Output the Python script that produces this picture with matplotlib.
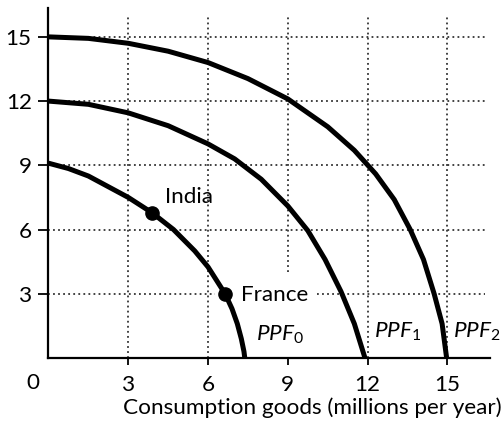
import matplotlib
matplotlib.use('Agg')
import matplotlib.pyplot as plt

# puntos (bienes de consumo, bienes de capital)
ppf0_x = [0, 0.75, 1.5, 3, 3.9, 4.7, 5.5, 6, 6.64, 6.9, 7.1, 7.25, 7.35, 7.38]
ppf0_y = [9.1, 8.85, 8.5, 7.5, 6.78, 6.0, 5.0, 4.25, 3.0, 2.3, 1.6, 0.9, 0.3, 0]

ppf1_x = [0, 1.5, 3, 4.5, 6, 7, 8, 9, 9.75, 10.4, 11.0, 11.5, 11.9]
ppf1_y = [12, 11.85, 11.45, 10.85, 10.0, 9.3, 8.35, 7.1, 5.95, 4.6, 3.1, 1.6, 0]

ppf2_x = [0, 1.5, 3, 4.5, 6, 7.5, 9, 10.5, 11.5, 12.3, 13.0, 13.6, 14.1, 14.5, 14.8, 14.97]
ppf2_y = [15, 14.93, 14.7, 14.33, 13.8, 13.05, 12.1, 10.8, 9.7, 8.6, 7.4, 6.0, 4.6, 3.0, 1.6, 0]

paises = ['India', 'France']
paises_x = [3.9, 6.64]
paises_y = [6.78, 3.0]

ticks = [3, 6, 9, 12, 15]
etiquetas_ppf = ['$PPF_0$', '$PPF_1$', '$PPF_2$']
xlabel = 'Consumption goods (millions per year)'

plt.rcParams['font.family'] = ['Lato', 'DejaVu Sans']
plt.rcParams['mathtext.fontset'] = 'custom'
plt.rcParams['mathtext.rm'] = 'Lato'
plt.rcParams['mathtext.it'] = 'Lato:italic'
plt.rcParams['font.size'] = 16.2

fig = plt.figure(figsize=(5.04, 4.24), dpi=100)
ax = fig.add_axes([0.0962, 0.1557, 0.876, 0.8255])
ax.set_xlim(0, 16.6)
ax.set_ylim(0, 16.35)

# grilla punteada
punteado = (0, (1, 1.8))
for v in ticks:
    if v == 3:
        ax.hlines(v, 0, 6.25, colors='#333333', lw=1.3, linestyles=punteado)
        ax.hlines(v, 10.1, 16.4, colors='#333333', lw=1.3, linestyles=punteado)
    else:
        ax.hlines(v, 0, 16.4, colors='#333333', lw=1.3, linestyles=punteado)
    if v == 9:
        ax.vlines(v, 4.0, 15.95, colors='#333333', lw=1.3, linestyles=punteado)
    else:
        ax.vlines(v, 0, 15.95, colors='#333333', lw=1.3, linestyles=punteado)

# curvas
for xs, ys in [(ppf0_x, ppf0_y), (ppf1_x, ppf1_y), (ppf2_x, ppf2_y)]:
    ax.plot(xs, ys, color='black', lw=3.6, solid_joinstyle='round', solid_capstyle='butt', zorder=3)

ax.plot(paises_x, paises_y, 'o', color='black', markersize=9.5, zorder=4)
ax.text(4.38, 7.52, paises[0], ha='left', va='center')
ax.text(7.24, 2.94, paises[1], ha='left', va='center')

ax.text(7.8, 1.1, etiquetas_ppf[0], ha='left', va='center')
ax.text(12.23, 1.2, etiquetas_ppf[1], ha='left', va='center')
ax.text(15.2, 1.2, etiquetas_ppf[2], ha='left', va='center')

for s in ['top', 'right']:
    ax.spines[s].set_visible(False)
for s in ['left', 'bottom']:
    ax.spines[s].set_linewidth(1.6)

ax.set_xticks(ticks)
ax.set_yticks(ticks)
ax.tick_params(axis='y', direction='out', length=7, width=1.3, pad=5)
ax.tick_params(axis='x', direction='out', length=5, width=1.3, pad=7)

ax.annotate('0', xy=(0, 0), xytext=(-11, -18), textcoords='offset points',
            ha='center', va='center', annotation_clip=False)
fig.text(312 / 504, 1 - 408 / 424, xlabel, ha='center', va='center')

fig.savefig('out.png', dpi=100)
